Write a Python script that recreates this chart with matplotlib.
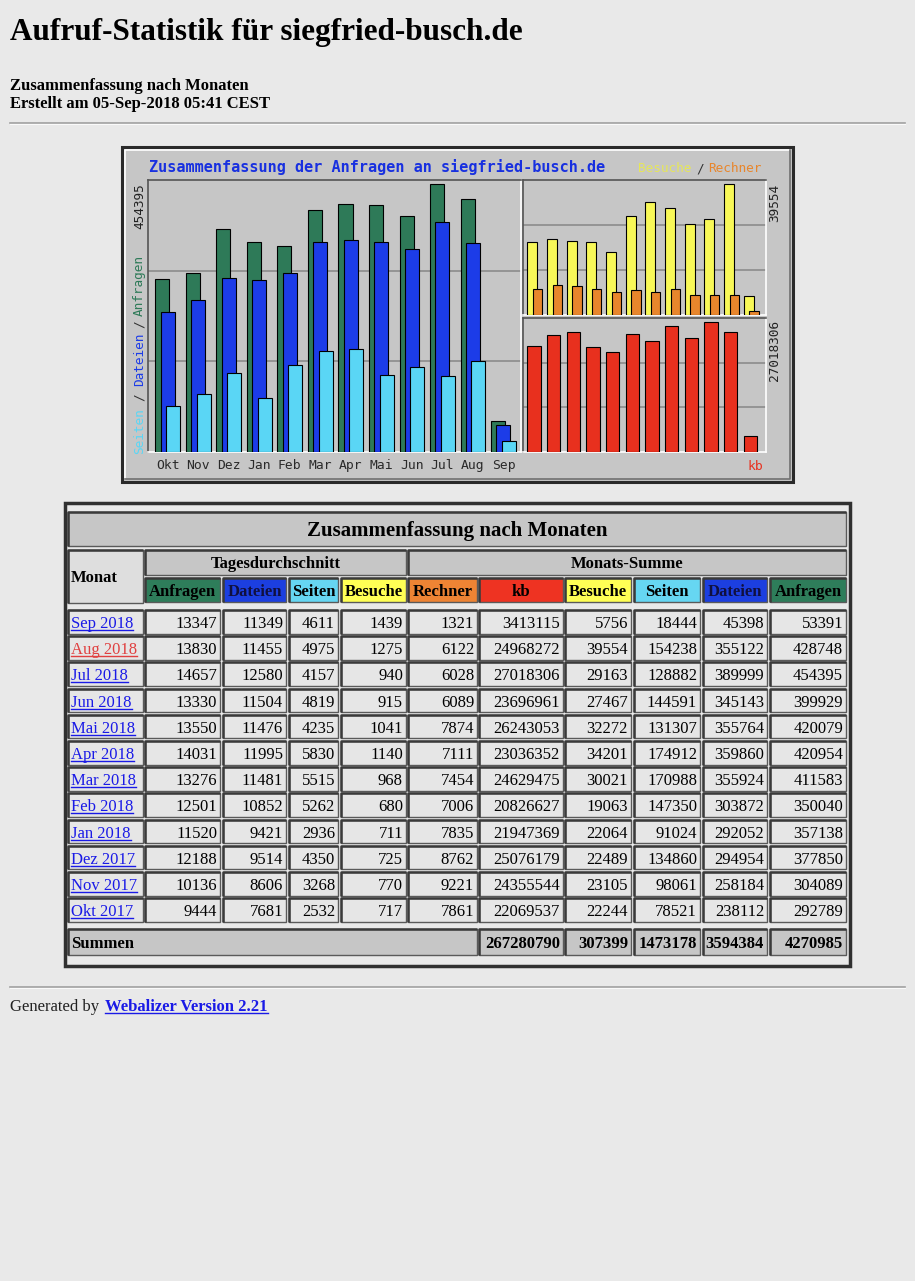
import matplotlib
matplotlib.use('Agg')
import matplotlib.pyplot as plt
from matplotlib.patches import Rectangle
import numpy as np

W, H = 915, 1281

# Grafik: Okt 2017 .. Sep 2018
monate_kurz = ['Okt', 'Nov', 'Dez', 'Jan', 'Feb', 'Mar', 'Apr', 'Mai', 'Jun', 'Jul', 'Aug', 'Sep']
monat_links = ['Okt 2017', 'Nov 2017', 'Dez 2017', 'Jan 2018', 'Feb 2018', 'Mar 2018',
               'Apr 2018', 'Mai 2018', 'Jun 2018', 'Jul 2018', 'Aug 2018', 'Sep 2018']
anfragen = [292789, 304089, 377850, 357138, 350040, 411583, 420954, 420079, 399929, 454395, 428748, 53391]
dateien = [238112, 258184, 294954, 292052, 303872, 355924, 359860, 355764, 345143, 389999, 355122, 45398]
seiten = [78521, 98061, 134860, 91024, 147350, 170988, 174912, 131307, 144591, 128882, 154238, 18444]
besuche = [22244, 23105, 22489, 22064, 19063, 30021, 34201, 32272, 27467, 29163, 39554, 5756]
rechner = [7861, 9221, 8762, 7835, 7006, 7454, 7111, 7874, 6089, 6028, 6122, 1321]
kbytes = [22069537, 24355544, 25076179, 21947369, 20826627, 24629475, 23036352, 26243053,
          23696961, 27018306, 24968272, 3413115]

# Tagesdurchschnitt
tag_anfragen = [9444, 10136, 12188, 11520, 12501, 13276, 14031, 13550, 13330, 14657, 13830, 13347]
tag_dateien = [7681, 8606, 9514, 9421, 10852, 11481, 11995, 11476, 11504, 12580, 11455, 11349]
tag_seiten = [2532, 3268, 4350, 2936, 5262, 5515, 5830, 4235, 4819, 4157, 4975, 4611]
tag_besuche = [717, 770, 725, 711, 680, 968, 1140, 1041, 915, 940, 1275, 1439]

summen = [267280790, 307399, 1473178, 3594384, 4270985]
kopf = ['Anfragen', 'Dateien', 'Seiten', 'Besuche', 'Rechner', 'kb', 'Besuche', 'Seiten', 'Dateien', 'Anfragen']

BG = '#e9e9e9'
GRAU = '#c6c6c6'
GREEN, BLUE, LBLUE = '#2e7a58', '#1c3ce8', '#5ad6f5'
YELLOW, ORANGE, RED = '#f8f858', '#e8862c', '#e8301e'
kopf_farben = ['#2e7d5a', '#1c3fe0', '#66d6f2', '#ffff55', '#ee8434', '#ee3322',
               '#ffff55', '#66d6f2', '#1c3fe0', '#2e7d5a']
SERIF = 'Liberation Serif'
MONO = 'DejaVu Sans Mono'

fig = plt.figure(figsize=(W / 100, H / 100), dpi=100, facecolor=BG)
page = fig.add_axes([0, 0, 1, 1])
page.set_xlim(0, W)
page.set_ylim(H, 0)
page.axis('off')


def px_axes(x0, y0, x1, y1):
    return fig.add_axes([x0 / W, 1 - y1 / H, (x1 - x0) / W, (y1 - y0) / H])


def hr(y):
    page.plot([10, 905], [y, y], color='#a0a0a0', lw=1.2)
    page.plot([10, 905], [y + 1.2, y + 1.2], color='#fafafa', lw=0.8)


def cell(x0, y0, x1, y1, fc):
    page.add_patch(Rectangle((x0, y0), x1 - x0, y1 - y0, facecolor=fc, edgecolor='#5a5a5a', lw=1.0))
    page.plot([x0, x0, x1], [y1, y0, y0], color='#3a3a3a', lw=1.8, solid_capstyle='butt')


def txt(x, y, s, size=12, bold=False, **kw):
    # y ist die Grundlinie
    return page.text(x, y, s, fontsize=size, weight='bold' if bold else 'normal',
                     family=SERIF, va='baseline', **kw)


renderer = fig.canvas.get_renderer()


def link(x, y, s, color, **kw):
    t = txt(x, y, s, color=color, **kw)
    bb = t.get_window_extent(renderer)
    inv = page.transData.inverted()
    xa = inv.transform((bb.x0, bb.y0))[0]
    xb = inv.transform((bb.x1, bb.y0))[0]
    page.plot([xa, xb], [y + 2, y + 2], color=color, lw=1)


# Kopf der Seite
txt(10, 40, 'Aufruf-Statistik für siegfried-busch.de', size=22.5, bold=True)
txt(10, 89.5, 'Zusammenfassung nach Monaten', bold=True)
txt(10, 108, 'Erstellt am 05-Sep-2018 05:41 CEST', bold=True)
hr(123)

# Rahmen der Grafik
page.add_patch(Rectangle((122, 147), 671, 335, facecolor=GRAU, edgecolor='#2a2a2a', lw=2.2))
page.plot([125, 125, 790], [479, 150, 150], color='white', lw=1.2)
page.plot([125, 790, 790], [479, 479, 150], color='#707070', lw=1.2)

x = np.arange(len(monate_kurz))


def panel(ax):
    ax.set_facecolor(GRAU)
    for s in ['left', 'top']:
        ax.spines[s].set_color('#555555')
    for s in ['right', 'bottom']:
        ax.spines[s].set_color('white')
    for s in ax.spines.values():
        s.set_linewidth(1.2)
    ax.tick_params(left=False, labelleft=False, bottom=False, labelbottom=False)
    lo, hi = ax.get_ylim()
    ax.set_yticks([hi / 3, 2 * hi / 3])
    ax.yaxis.grid(True, color='#8c8c8c', lw=1.2, zorder=0)
    ax.set_axisbelow(True)


ax1 = px_axes(148, 180, 521, 452)
ax1.bar(x, anfragen, width=0.46, align='edge', color=GREEN, edgecolor='black', lw=0.8, zorder=3)
ax1.bar(x + 0.17, dateien, width=0.46, align='edge', color=BLUE, edgecolor='black', lw=0.8, zorder=3)
ax1.bar(x + 0.35, seiten, width=0.46, align='edge', color=LBLUE, edgecolor='black', lw=0.8, zorder=3)
ax1.set_xlim(-0.24, 11.98)
ax1.set_ylim(0, max(anfragen) * 1.016)
panel(ax1)
ax1.set_xticks(x + 0.405)
ax1.set_xticklabels(monate_kurz, family=MONO, fontsize=9.4, color='#2a2a2a')
ax1.tick_params(axis='x', length=0, pad=5, labelbottom=True)

ax2 = px_axes(523, 180, 766, 315)
ax2.bar(x, besuche, width=0.5, align='edge', color=YELLOW, edgecolor='black', lw=0.8, zorder=3)
ax2.bar(x + 0.28, rechner, width=0.48, align='edge', color=ORANGE, edgecolor='black', lw=0.8, zorder=3)
ax2.set_xlim(-0.22, 12.13)
ax2.set_ylim(0, max(besuche) * 1.033)
panel(ax2)

ax3 = px_axes(523, 318, 766, 452)
ax3.bar(x, kbytes, width=0.68, align='edge', color=RED, edgecolor='black', lw=0.8, zorder=3)
ax3.set_xlim(-0.22, 12.13)
ax3.set_ylim(0, max(kbytes) * 1.033)
panel(ax3)

# Beschriftung der Grafik
page.text(377, 166.7, 'Zusammenfassung der Anfragen an siegfried-busch.de', color='#1830e0',
          family=MONO, weight='bold', fontsize=10.9, ha='center', va='center')
page.text(664.5, 169, 'Besuche', color='#e6e65a', family=MONO, fontsize=9.2, ha='center', va='center')
page.text(700, 169, '/', color='#333333', family=MONO, fontsize=9.2, ha='center', va='center')
page.text(735, 169, 'Rechner', color='#e8862c', family=MONO, fontsize=9.2, ha='center', va='center')
for s, yy, c in [('Seiten', 430.7, LBLUE), ('/', 397, '#333333'), ('Dateien', 359, BLUE),
                 ('/', 324, '#333333'), ('Anfragen', 285, GREEN)]:
    page.text(139.4, yy, s, color=c, family=MONO, fontsize=9.2, rotation=90, ha='center', va='center')
page.text(139.4, 205.7, str(max(anfragen)), color='#222222', family=MONO, fontsize=9.2,
          rotation=90, ha='center', va='center')
page.text(774.3, 202.7, str(max(besuche)), color='#222222', family=MONO, fontsize=9.2,
          rotation=90, ha='center', va='center')
page.text(774.3, 350.7, str(max(kbytes)), color='#222222', family=MONO, fontsize=9.2,
          rotation=90, ha='center', va='center')
page.text(755, 466, 'kb', color=RED, family=MONO, fontsize=9.4, ha='center', va='center')

# Tabelle
cols = [(68, 143), (145, 220), (223, 286), (289, 338), (341, 406), (408, 477),
        (479, 563), (565, 631), (634, 700), (703, 767), (770, 846)]

page.add_patch(Rectangle((65, 503), 785, 463, facecolor=BG, edgecolor='#303030', lw=2.5))
cell(68, 512, 846, 546, GRAU)
txt(457, 536, 'Zusammenfassung nach Monaten', size=15, bold=True, ha='center')

cell(68, 550, 143, 603, '#dedede')
txt(71, 582.5, 'Monat', bold=True)
cell(145, 550, 406, 575, GRAU)
txt(275.5, 568.5, 'Tagesdurchschnitt', bold=True, ha='center')
cell(408, 550, 846, 575, GRAU)
txt(627, 568.5, 'Monats-Summe', bold=True, ha='center')
for (x0, x1), name, fc in zip(cols[1:], kopf, kopf_farben):
    cell(x0, 578, x1, 602, fc)
    txt((x0 + x1) / 2, 595.5, name, bold=True, ha='center',
        color='#101040' if fc == '#1c3fe0' else 'black')

n = len(monat_links)
for r in range(n):
    i = n - 1 - r
    top = 610 + r * 26.2
    bot = top + 23.5
    base = top + 18
    werte = [tag_anfragen[i], tag_dateien[i], tag_seiten[i], tag_besuche[i],
             rechner[i], kbytes[i], besuche[i], seiten[i], dateien[i], anfragen[i]]
    cell(68, top, 143, bot, '#e6e6e6')
    link(71, base, monat_links[i], '#e04040' if monat_links[i] == 'Aug 2018' else '#1a1ae6')
    for (x0, x1), v in zip(cols[1:], werte):
        cell(x0, top, x1, bot, '#e6e6e6')
        txt(x1 - 3, base, str(v), ha='right')

cell(68, 929, 477, 955, GRAU)
txt(71, 947.5, 'Summen', bold=True)
for (x0, x1), v in zip(cols[6:], summen):
    cell(x0, 929, x1, 955, GRAU)
    txt(x1 - 3, 947.5, str(v), bold=True, ha='right')

# Fuss
hr(987)
txt(10, 1011, 'Generated by', color='#222222')
link(105, 1011, 'Webalizer Version 2.21', '#1a1ae6', bold=True)

fig.savefig('out.png', dpi=100, facecolor=BG)
